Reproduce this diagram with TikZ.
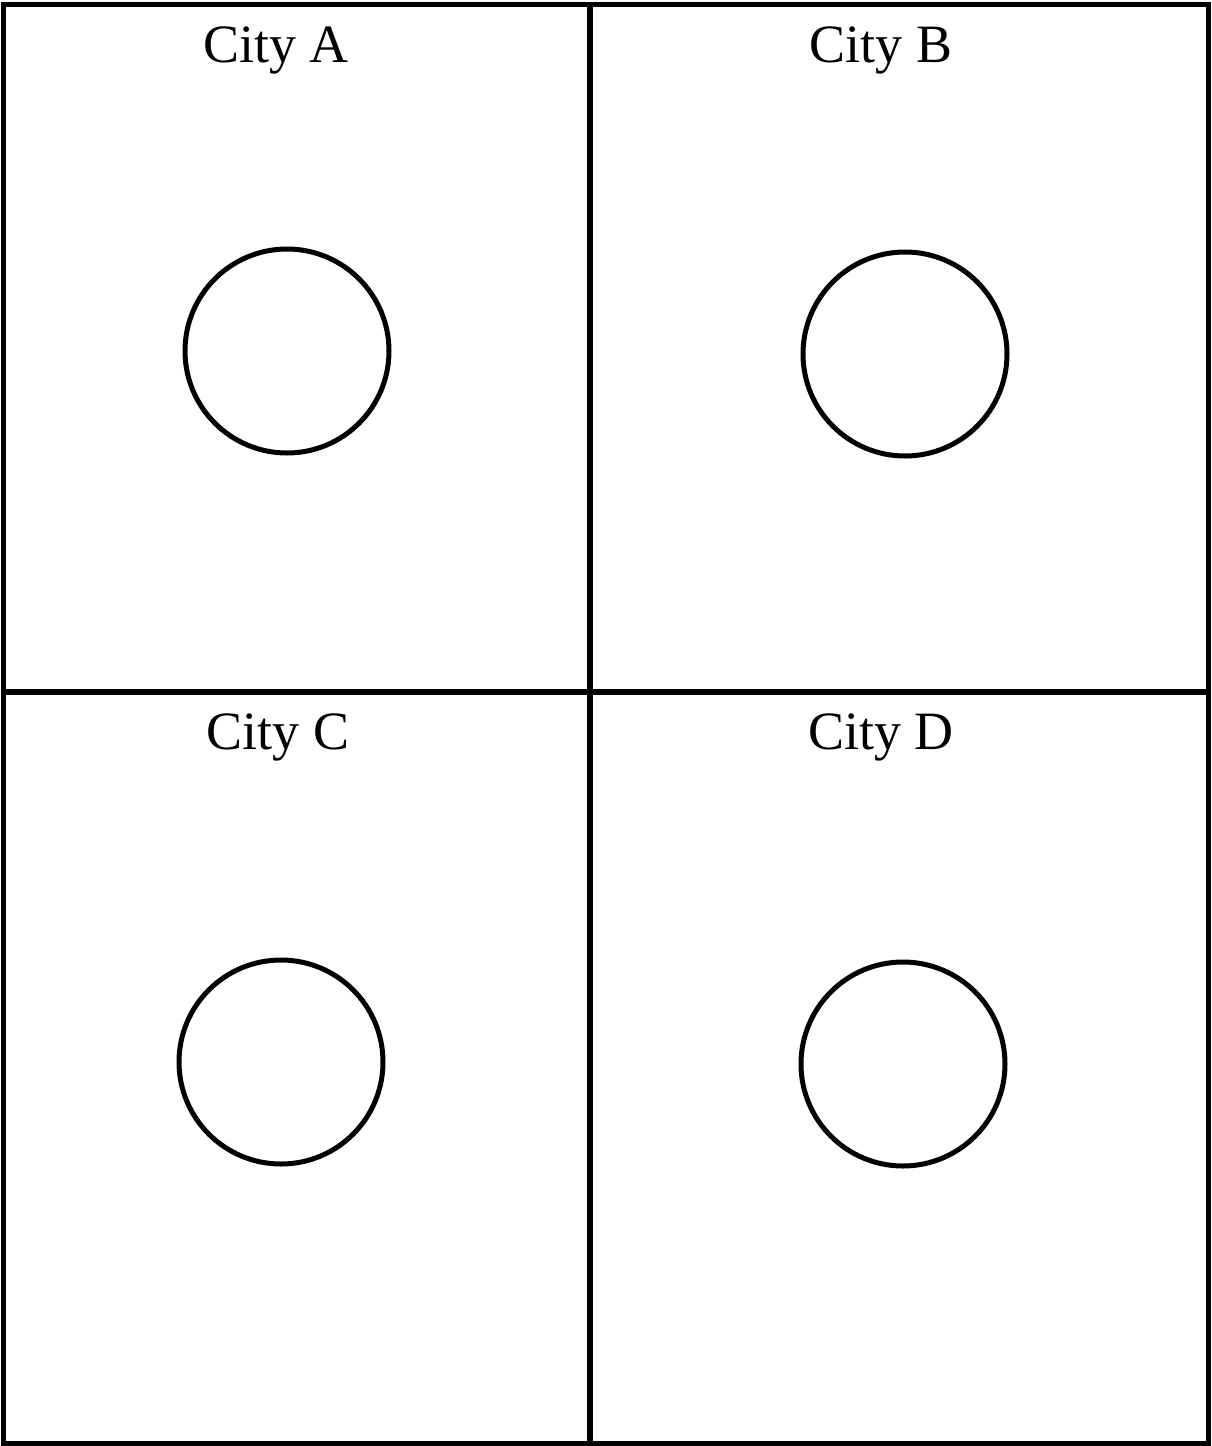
\documentclass[tikz,border=0pt]{standalone}
\usepackage{fontspec}
\setmainfont{Liberation Serif}
\usetikzlibrary{positioning}

\begin{document}
\begin{tikzpicture}[x=0.5pt,y=-0.5pt,
  cityname/.style={anchor=base,font=\fontsize{27}{32}\selectfont},
  ring/.style={draw,circle,line width=2.5pt,minimum size=102pt,inner sep=0pt}]
\useasboundingbox (0,0) rectangle (1211,1446);
% outer frame and quadrant dividers
\draw[line width=2.5pt] (3.5,4.5) rectangle (1208,1443);
\draw[line width=3pt] (590,4.5) -- (590,1443);
\draw[line width=3pt] (3.5,692) -- (1208,692);
% top row
\node[cityname] (nameA) at (276,62) {City A};
\node[ring] (ringA) at (287,351) {};
\node[cityname] (nameB) at (881,62) {City B};
\node[ring] (ringB) at (905,354) {};
% bottom row
\node[cityname] (nameC) at (278,749) {City C};
\node[ring] (ringC) at (281,1062) {};
\node[cityname] (nameD) at (881,749) {City D};
\node[ring] (ringD) at (903,1064) {};
\end{tikzpicture}
\end{document}
